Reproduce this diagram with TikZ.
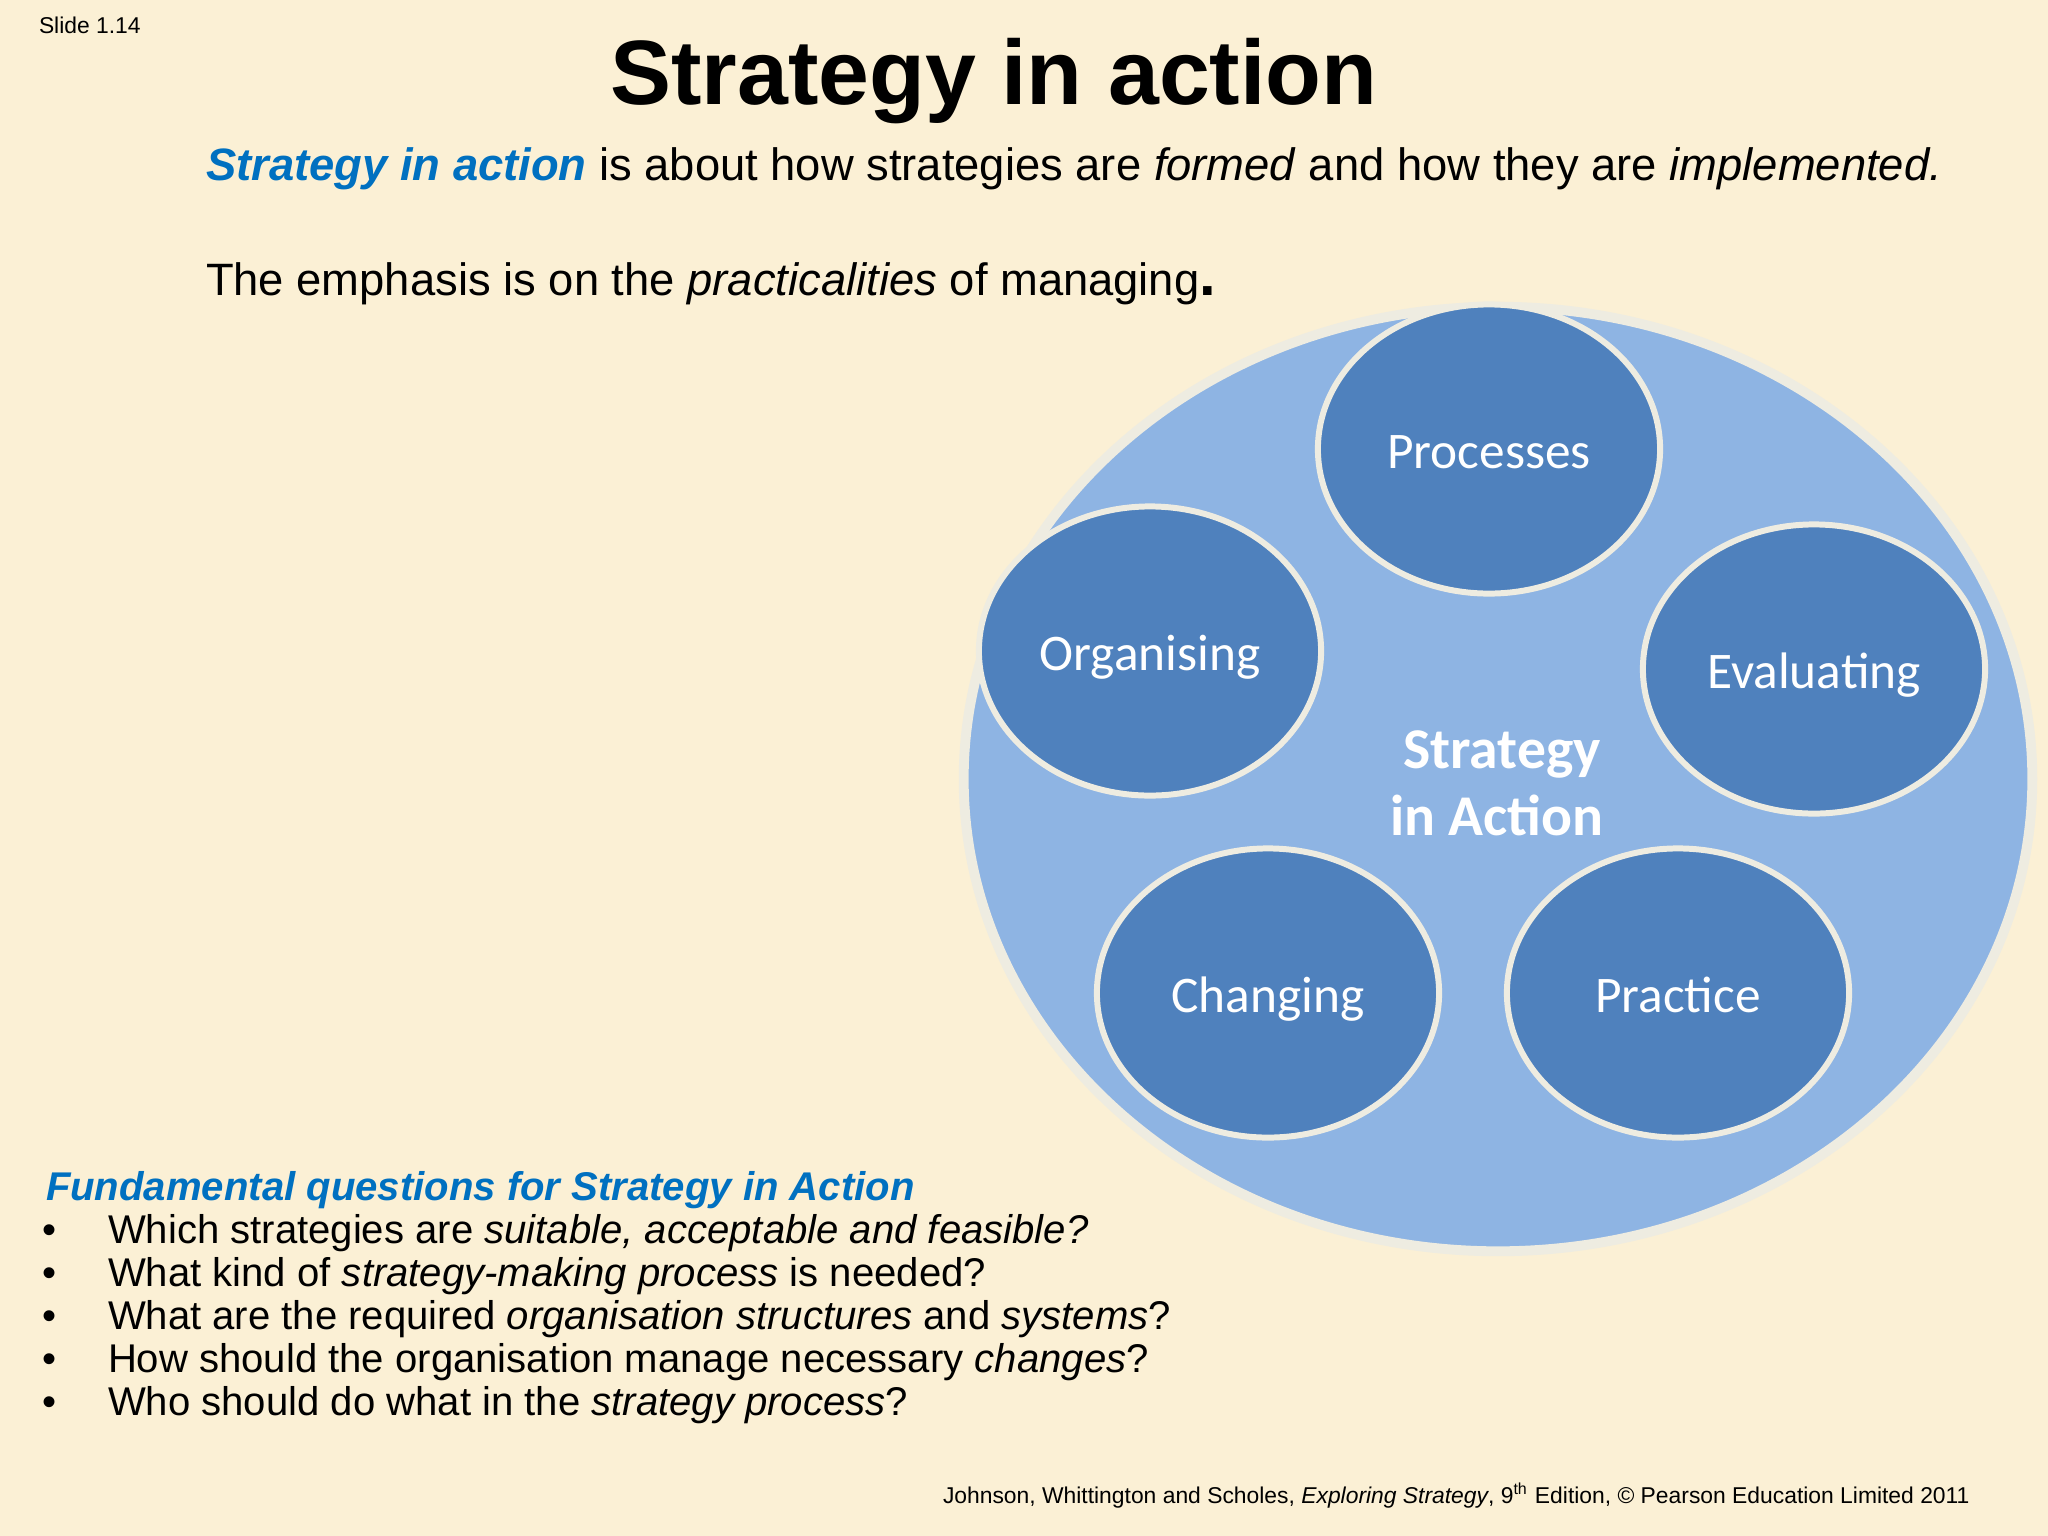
\documentclass[tikz,border=0pt]{standalone}
\usepackage{fontspec}
\setmainfont{Liberation Sans}
\newfontfamily\calibri{Carlito}
\usetikzlibrary{shapes.geometric}
\definecolor{bgcream}{RGB}{251,240,213}
\definecolor{bigblue}{RGB}{142,180,227}
\definecolor{ellblue}{RGB}{79,129,189}
\definecolor{rimcol}{RGB}{238,236,225}
\definecolor{textblue}{RGB}{0,112,192}
\tikzset{
  txt/.style={inner sep=0pt, outer sep=0pt, anchor=base west},
  bigcirc/.style={ellipse, draw=rimcol, line width=2.8pt, fill=bigblue, minimum width=10.68cm, minimum height=9.44cm, inner sep=0pt},
  smallell/.style={ellipse, draw=rimcol, line width=1.7pt, fill=ellblue, minimum width=3.42cm, minimum height=2.89cm, inner sep=0pt, text height=13.2pt, text depth=2pt, text=white, font=\calibri\fontsize{14.6}{17}\selectfont},
  centretext/.style={inner sep=0pt, anchor=base, text=white, font=\calibri\bfseries\fontsize{16.4}{19}\selectfont},
  bodytext/.style={txt, font=\fontsize{12.9}{15}\selectfont},
  qtext/.style={txt, font=\fontsize{11.4}{12.2}\selectfont},
}
\begin{document}
\begin{tikzpicture}[x=0.01cm, y=-0.01cm]
\fill[bgcream] (0,0) rectangle (2048,1536);
\useasboundingbox (0,0) rectangle (2048,1536);

\node[txt, font=\fontsize{6.5}{7}\selectfont] (slide) at (39,33) {Slide 1.14};
\node[inner sep=0pt, anchor=base, font=\bfseries\fontsize{26}{30}\selectfont] (title) at (994,104) {Strategy in action};

\node[bodytext] (line1) at (206,180) {{\color{textblue}\bfseries\itshape Strategy in action} is about how strategies are \textit{formed} and how they are \textit{implemented.}};
\node[bodytext] (line2) at (206,295) {The emphasis is on the \textit{practicalities} of managing{\fontsize{17}{17}\selectfont\bfseries .}};

% diagram
\node[bigcirc] (big) at (1498,779) {};
\node[smallell] (proc) at (1489,449) {Processes};
\node[smallell] (org) at (1150,651) {Organising};
\node[smallell] (eval) at (1814,669) {Evaluating};
\node[smallell] (chg) at (1268,993) {Changing};
\node[smallell] (prac) at (1678,993) {Practice};
\node[centretext] (c1) at (1502,768) {Strategy};
\node[centretext] (c2) at (1497,835) {in Action};

% questions
\node[txt, text=textblue, font=\bfseries\itshape\fontsize{11.4}{12.2}\selectfont] (qhead) at (46,1200) {Fundamental questions for Strategy in Action};
\node[qtext] (b1) at (42,1243) {•};
\node[qtext] (q1) at (108,1243) {Which strategies are \textit{suitable, acceptable and feasible?}};
\node[qtext] (b2) at (42,1286) {•};
\node[qtext] (q2) at (108,1286) {What kind of \textit{strategy-making process} is needed?};
\node[qtext] (b3) at (42,1329) {•};
\node[qtext] (q3) at (108,1329) {What are the required \textit{organisation structures} and \textit{systems}?};
\node[qtext] (b4) at (42,1372) {•};
\node[qtext] (q4) at (108,1372) {How should the organisation manage necessary \textit{changes}?};
\node[qtext] (b5) at (42,1415) {•};
\node[qtext] (q5) at (108,1415) {Who should do what in the \textit{strategy process}?};

\node[txt, font=\fontsize{6.5}{7}\selectfont] (foot) at (943,1503) {Johnson, Whittington and Scholes, \textit{Exploring Strategy}, 9\textsuperscript{th} Edition, © Pearson Education Limited 2011};
\end{tikzpicture}
\end{document}
